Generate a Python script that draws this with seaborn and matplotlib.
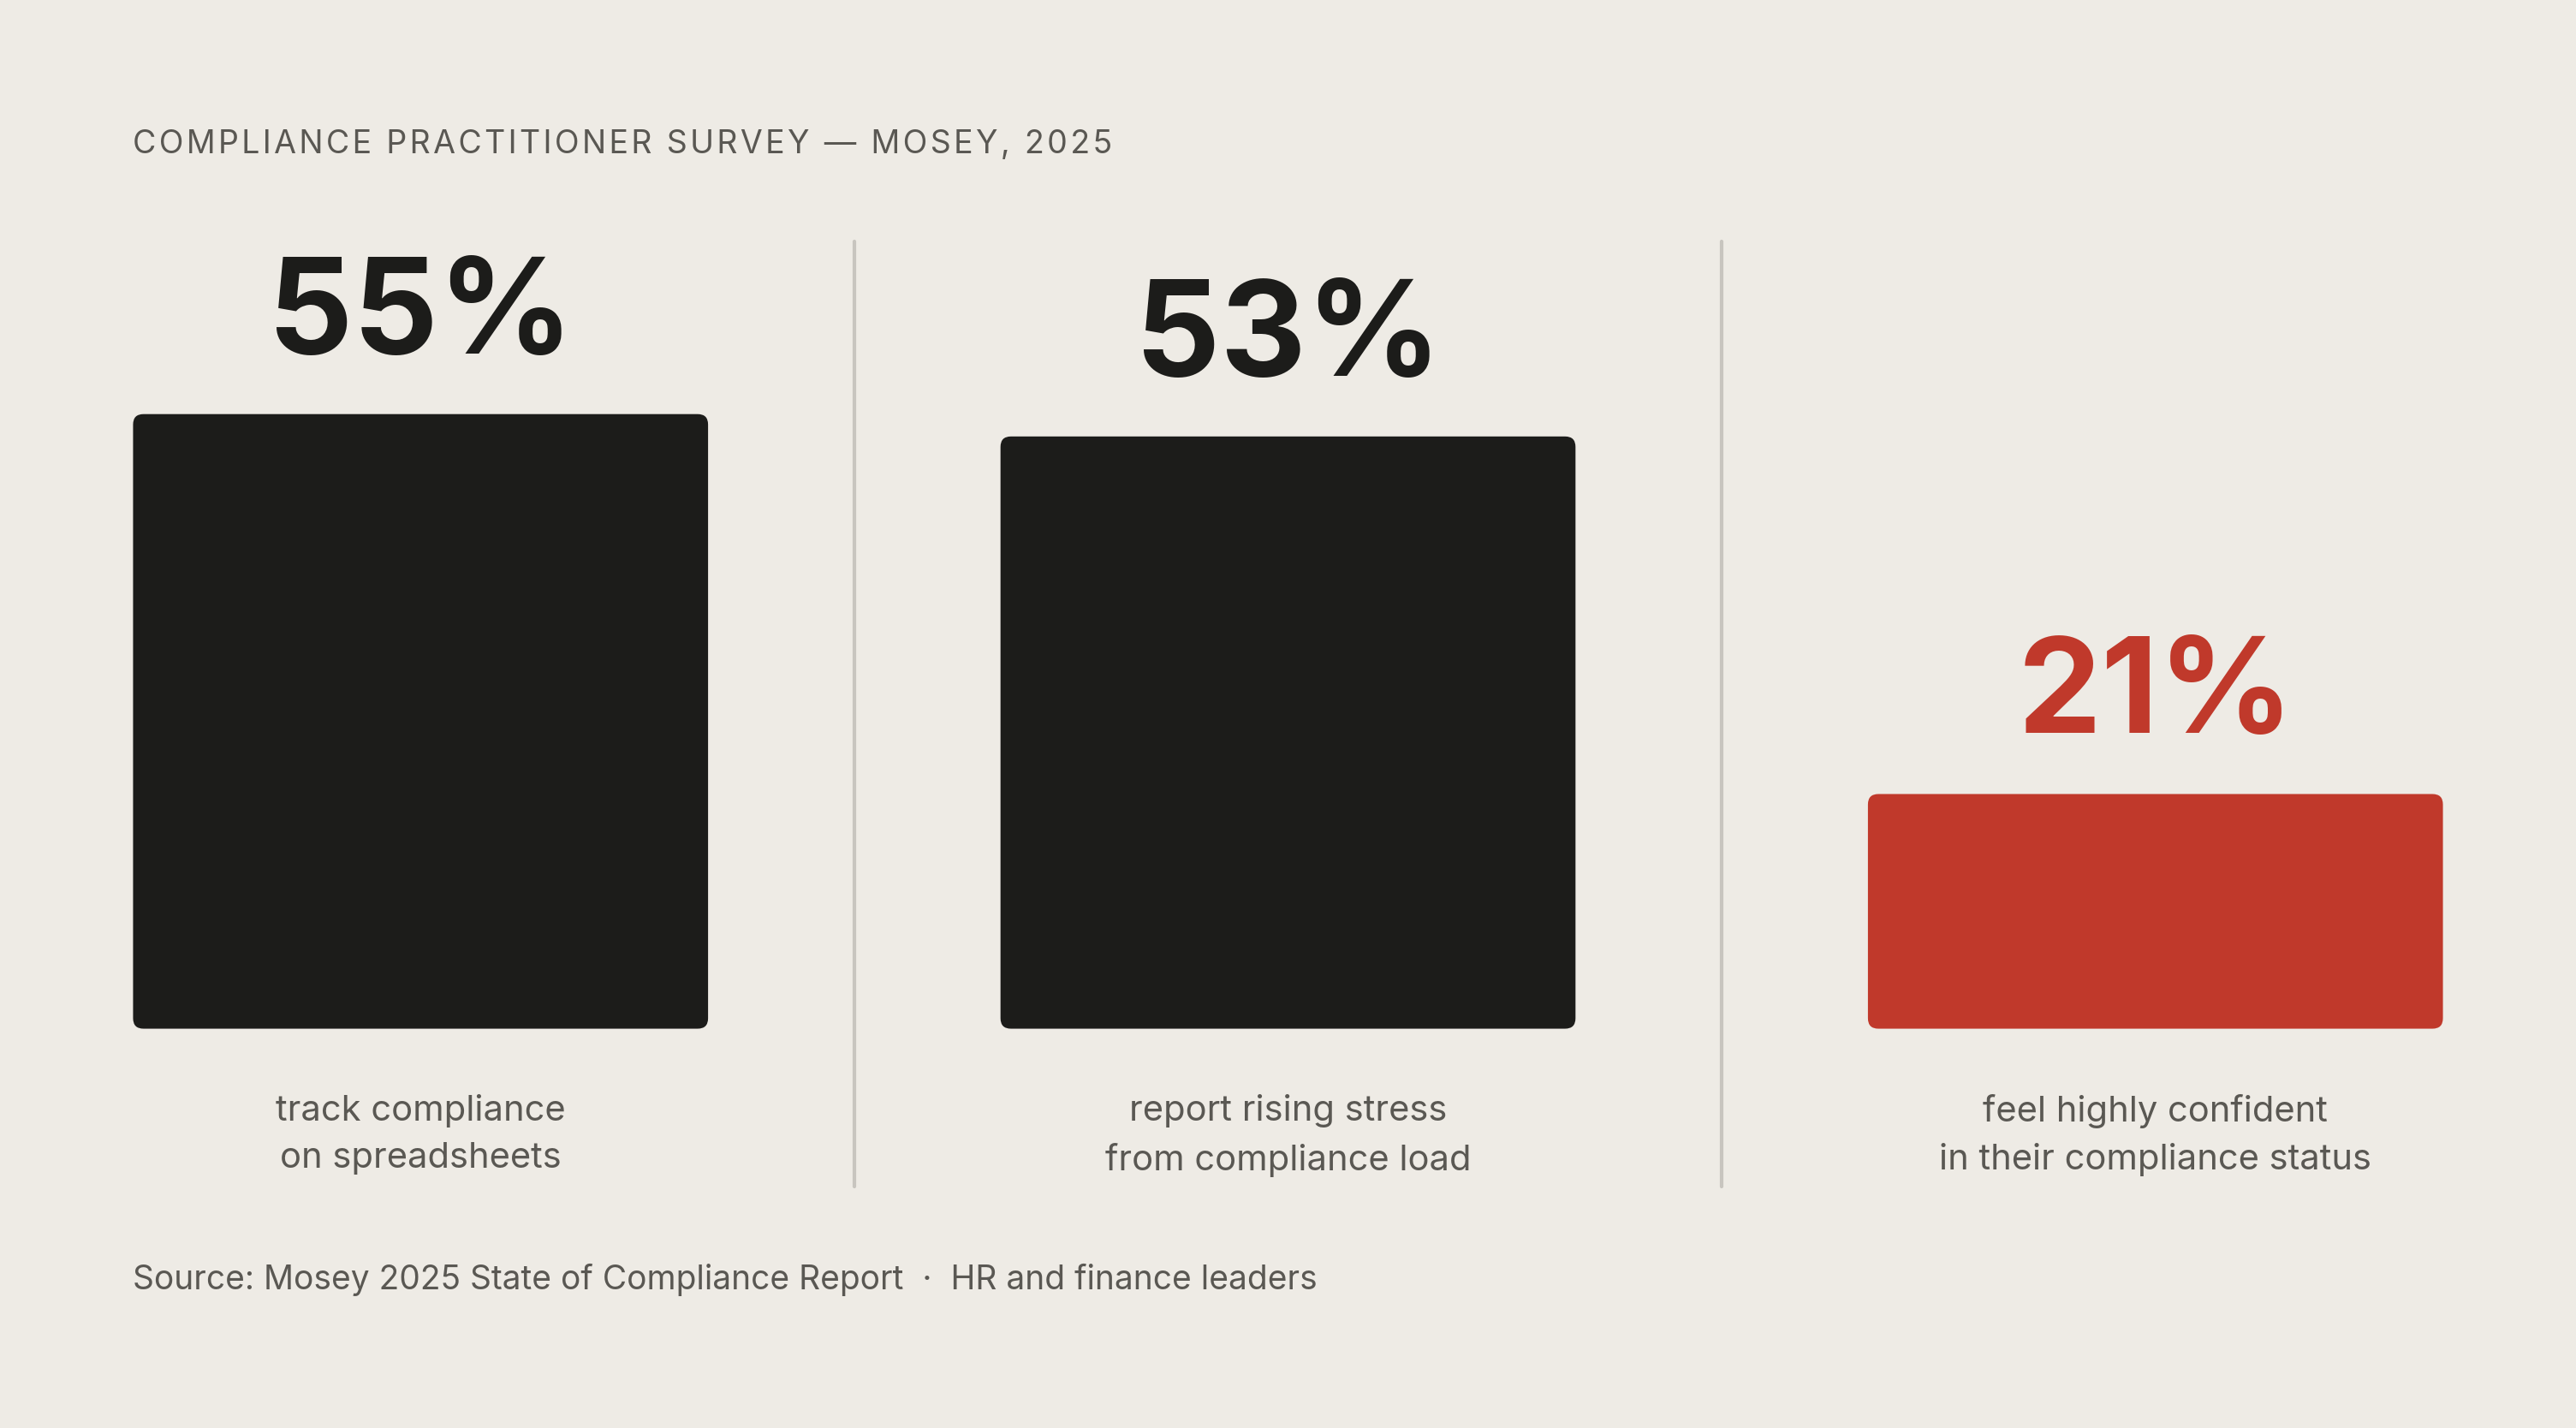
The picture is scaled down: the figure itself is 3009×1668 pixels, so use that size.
import seaborn as sns
import pandas as pd
import matplotlib.pyplot as plt
from matplotlib.patches import FancyBboxPatch
from matplotlib.lines import Line2D

labels = ["track compliance\non spreadsheets",
          "report rising stress\nfrom compliance load",
          "feel highly confident\nin their compliance status"]
values = [55, 53, 21]
colors = ["#1c1c1a", "#1c1c1a", "#c0392b"]
title = "COMPLIANCE PRACTITIONER SURVEY — MOSEY, 2025"

bg = "#eeebe5"
W, H = 1568, 869  # layout units (reference scale)

sns.set_style("white")
plt.rcParams['font.family'] = ['Inter', 'DejaVu Sans']

fig = plt.figure(figsize=(15.045, 8.34), dpi=200, facecolor=bg)
left, right, bottom, top = 81, 1487, 626, 147
ax = fig.add_axes([left / W, 1 - bottom / H, (right - left) / W, (bottom - top) / H])
ax.set_facecolor("none")

df = pd.DataFrame({"cat": labels, "val": values})
sns.barplot(data=df, x="cat", y="val", hue="cat", palette=colors, saturation=1,
            width=350 / 528, legend=False, ax=ax)
half = 350 / 528 / 2
ax.set_xlim(-half, 2 + half)
ylim = 479 / 6.8
ax.set_ylim(0, ylim)
ax.axis("off")

# swap bars for rounded ones
aspect = (ylim / 479) / ((2 + 2 * half) / 1406)
for p in list(ax.patches):
    x, y, w, h = p.get_x(), p.get_y(), p.get_width(), p.get_height()
    fc = p.get_facecolor()
    p.remove()
    ax.add_patch(FancyBboxPatch((x, y), w, h,
                                boxstyle="round,pad=0,rounding_size=0.012",
                                mutation_aspect=aspect, fc=fc, ec="none"))

for i, (v, c) in enumerate(zip(values, colors)):
    ax.text(i, v + 3.0, f"{v}%", ha="center", va="bottom", fontsize=56,
            fontweight="bold", color=c)
    ax.text(i, -40 / 6.8, labels[i], ha="center", va="top", fontsize=15,
            color="#5a5853", linespacing=1.55)

for xd in (520, 1048):
    fig.add_artist(Line2D([xd / W, xd / W], [1 - 147 / H, 1 - 722 / H],
                          color="#c8c5bf", lw=1.5))

fig.text(81 / W, 1 - 88 / H, "\u200a".join(title),
         ha="left", va="center", fontsize=13.5, color="#5a5853")
fig.text(81 / W, 1 - 779 / H,
         "Source: Mosey 2025 State of Compliance Report  ·  HR and finance leaders",
         ha="left", va="center", fontsize=14, color="#5a5853")

fig.savefig("out.png", facecolor=bg)
